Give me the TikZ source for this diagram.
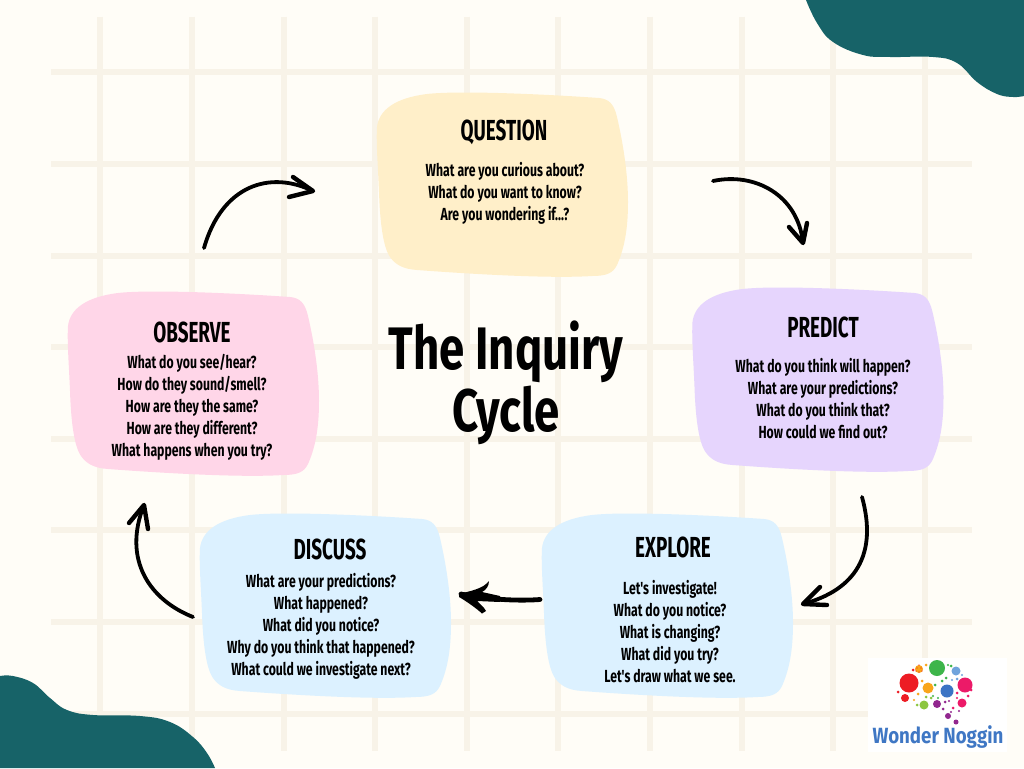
\documentclass[tikz,border=0pt]{standalone}
\usepackage{fontspec}
\setmainfont{Fira Sans}
\newfontfamily\headfont[FakeStretch=0.65]{Fira Sans}
\newfontfamily\inqfont[FakeStretch=0.70]{Fira Sans}
\newfontfamily\titlefont[FakeStretch=0.76]{Fira Sans}
\newfontfamily\logofont[FakeStretch=0.85]{Fira Sans}
\definecolor{pagebg}{HTML}{FFFDF7}
\definecolor{gridc}{HTML}{F8F3E8}
\definecolor{teal}{HTML}{176368}
\definecolor{yellowb}{HTML}{FFEFC9}
\definecolor{purpleb}{HTML}{E6D5FD}
\definecolor{pinkb}{HTML}{FFD6E8}
\definecolor{blueb}{HTML}{DCF1FF}
\definecolor{logoblue}{HTML}{3F77C4}
\definecolor{lred}{HTML}{ED1C24}
\definecolor{lgreen}{HTML}{3DB54A}
\definecolor{lorange}{HTML}{F9A51A}
\definecolor{lsky}{HTML}{6FA3DC}
\definecolor{lblue}{HTML}{3B74C4}
\definecolor{lpink}{HTML}{EC1A68}
\definecolor{llime}{HTML}{8CC63F}
\definecolor{lpurple}{HTML}{92278F}
\tikzset{
  heading/.style={inner sep=0pt,text=black,font=\headfont\bfseries\fontsize{29}{29}\selectfont},
  bodytext/.style={inner sep=0pt,align=center,text=black,font=\inqfont\bfseries\fontsize{17.5}{22}\selectfont},
  titletext/.style={inner sep=0pt,align=center,text=black,font=\titlefont\bfseries\fontsize{60}{62}\selectfont},
  linkline/.style={draw=black,line width=3.8pt,line cap=round,line join=round},
  headline/.style={draw=black,line width=4.4pt,line cap=round,line join=round},
  gridline/.style={draw=gridc,line width=6pt},
}
\newcommand{\blobat}[3]{%
  \fill[#3,shift={(#1,#2)}] (0,35) .. controls (2,18) and (18,6) .. (50,2)
  .. controls (85,-2) and (180,3) .. (222,6)
  .. controls (232,7) and (237,12) .. (240,25)
  .. controls (247,55) and (251,85) .. (251,110)
  .. controls (251,135) and (248,155) .. (240,173)
  .. controls (236,181) and (230,184) .. (215,184)
  .. controls (170,187) and (80,181) .. (40,178)
  .. controls (25,177) and (18,172) .. (13,165)
  .. controls (6,155) and (3,130) .. (2,100)
  .. controls (1,75) and (-1,50) .. (0,35) -- cycle;}
\begin{document}
\begin{tikzpicture}[x=1pt,y=-1pt]
\useasboundingbox (0,0) rectangle (1024,768);
\fill[pagebg] (0,0) rectangle (1024,768);
% grid
\foreach \gx in {100,192,284,375,467,558,650,742,833,925}
  \draw[gridline] (\gx,17) -- (\gx,751);
\foreach \gy in {72,164,256,347,439,530,622,714}
  \draw[gridline] (51,\gy) -- (972,\gy);
% corner shapes
\fill[teal] plot[smooth,tension=0.7] coordinates {(806,0) (817,23) (833,42) (863,55) (890,57) (933,57) (957,63) (977,82) (997,94) (1013,97) (1024,96)} -- (1024,0) -- cycle;
\fill[teal] plot[smooth,tension=0.7] coordinates {(0,676) (13,676) (33,683) (50,698) (67,710) (93,715) (140,716) (170,722) (193,737) (207,753) (215,768)} -- (0,768) -- cycle;
% blobs
\blobat{377}{92}{yellowb}
\blobat{692.5}{287}{purpleb}
\blobat{68}{291}{pinkb}
\blobat{200}{513}{blueb}
\blobat{542}{513}{blueb}
% texts
\node[heading] (qh) at (504,132) {QUESTION};
\node[bodytext] (qb) at (505,193) {What are you curious about?\\What do you want to know?\\Are you wondering if...?};
\node[heading] (ph) at (823,327) {PREDICT};
\node[bodytext] (pb) at (823,399) {What do you think will happen?\\What are your predictions?\\What do you think that?\\How could we find out?};
\node[heading] (oh) at (192,332) {OBSERVE};
\node[bodytext] (ob) at (192,407) {What do you see/hear?\\How do they sound/smell?\\How are they the same?\\How are they different?\\What happens when you try?};
\node[heading] (dh) at (330,549) {DISCUSS};
\node[bodytext] (db) at (321,626) {What are your predictions?\\What happened?\\What did you notice?\\Why do you think that happened?\\What could we investigate next?};
\node[heading] (eh) at (673,547) {EXPLORE};
\node[bodytext] (eb) at (670,632) {Let's investigate!\\What do you notice?\\What is changing?\\What did you try?\\Let's draw what we see.};
\node[titletext] (title) at (506,383) {The Inquiry\\Cycle};
% connector ends
\coordinate (qs) at (713,181);
\coordinate (qe) at (803,243);
\coordinate (qa) at (789,227);
\coordinate (qc) at (807,223);
\coordinate (ps) at (862,497);
\coordinate (pe) at (803,604);
\coordinate (pa) at (820,587);
\coordinate (pc) at (827,605);
\coordinate (es) at (540,599.5);
\coordinate (ee) at (461,594);
\coordinate (ds) at (193,617);
\coordinate (de) at (144,505);
\coordinate (da) at (129,523);
\coordinate (dc) at (148,529);
\coordinate (os) at (204,248);
\coordinate (oe) at (313,191);
\coordinate (oa) at (293,177);
\coordinate (oc) at (289,197);
% connectors
\draw[linkline] (qs) .. controls (755,172) and (798,195) .. (qe);
\draw[headline] (qa) -- (qe) -- (qc);
\draw[linkline] (ps) .. controls (878,555) and (855,590) .. (pe);
\draw[headline] (pa) -- (pe) -- (pc);
\draw[headline,line width=4.8pt] (es) .. controls (520,601) and (490,600) .. (ee);
\fill[black] (459,594) .. controls (470,591) and (483,589) .. (489,581)
  .. controls (489,586) and (486,590) .. (482,592) -- (500,596) -- (500,602) -- (477,601)
  .. controls (480,604) and (484,607) .. (486,611) -- (482,613.5)
  .. controls (476,608) and (466,601) .. (459,597) -- cycle;
\draw[linkline] (ds) .. controls (150,600) and (122,560) .. (de);
\draw[headline] (da) -- (de) -- (dc);
\draw[linkline] (os) .. controls (222,185) and (270,170) .. (oe);
\draw[headline] (oa) -- (oe) -- (oc);
% logo
\fill[white] (868,658) rectangle (1007,752);
\foreach \lx/\ly/\lr/\lc in {
 909/683/9.5/lred,937/668/8/lgreen,919/669/4/lorange,956/671/4.5/lsky,
 965/685/7.5/lpink,947/691/6.5/lblue,928/688/5.5/lorange,905/698/4/lred,
 924/705/4.5/llime,937/704/4/lpurple,962/703/4.5/lpink,948/716/3/lpurple,956/722/2.5/lpurple,
 898/692/1.5/lred,913/670/1.5/lred,926/665/1.5/lorange,935/685/1.5/lgreen,922/681/1.5/lorange,
 918/694/1.5/lorange,914/700/1.2/lorange,926/697/1.5/llime,931/698/1.5/llime,
 942/681/1.5/lgreen,946/678/1.5/lgreen,951/666/1.5/lgreen,948/665/1.2/lgreen,
 957/679/1.5/lsky,962/675/1.2/lsky,952/680/1.2/lsky,971/690/1.5/lpink,
 968/696/1.5/lpink,957/693/1.5/lpink,957/698/1.2/lpink,945/702/1.5/lpurple,
 949/701/1.2/lpurple,943/709/1.5/lpurple,953/708/1.5/lpink,959/711/1.2/lpurple,938/698/1.2/lgreen,
 917/705/1.5/llime,933/696/1.2/lgreen,951/712/1.2/lpurple}
  \fill[\lc] (\lx,\ly) circle[radius=\lr pt];
\foreach \lx/\ly in {917/668,921/668,919/665,919/672,916/671,922/671}
  \fill[lred] (\lx,\ly) circle[radius=0.7pt];
\node[inner sep=0pt,text=logoblue,font=\logofont\bfseries\fontsize{22}{22}\selectfont] (logo) at (938,737) {Wonder Noggin};
\end{tikzpicture}
\end{document}
